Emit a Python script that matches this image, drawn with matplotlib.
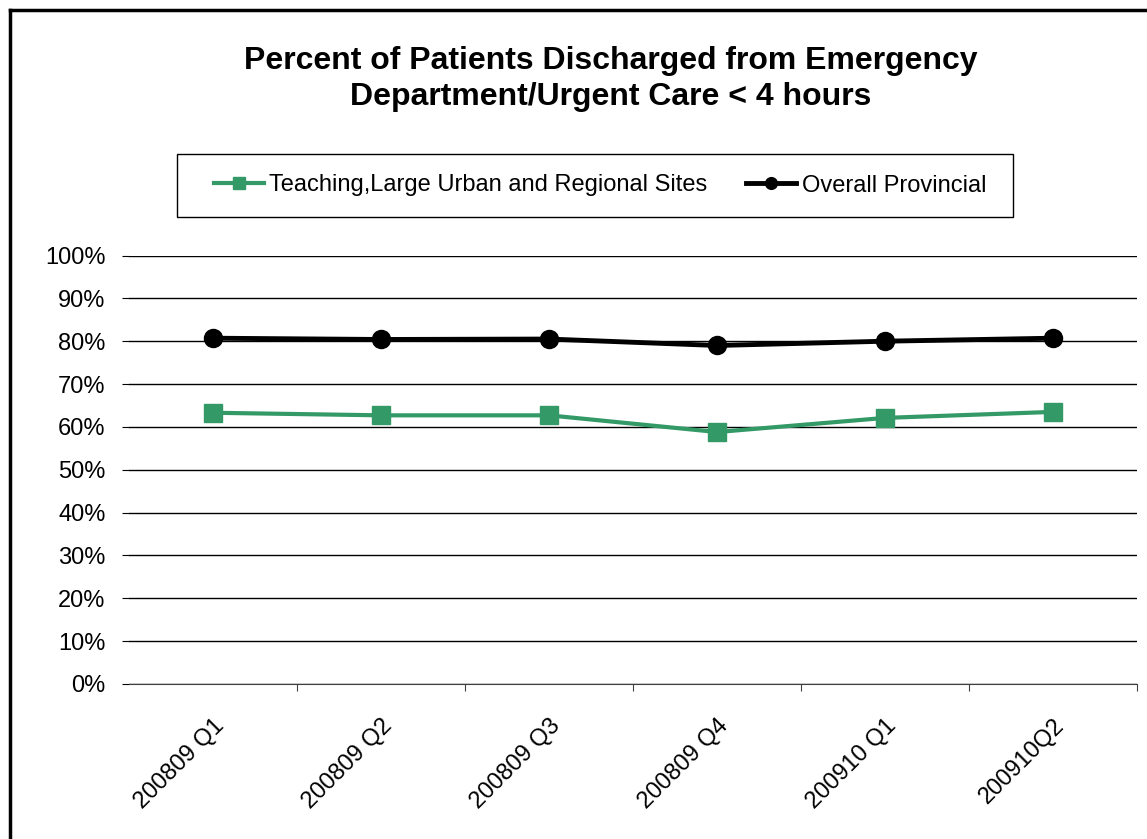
import matplotlib.pyplot as plt
from matplotlib.lines import Line2D
from matplotlib.patches import Rectangle
from matplotlib.ticker import FuncFormatter
from matplotlib.transforms import ScaledTranslation

quarters = ['200809 Q1', '200809 Q2', '200809 Q3', '200809 Q4', '200910 Q1', '200910Q2']
teaching = [63.3, 62.7, 62.7, 58.8, 62.1, 63.5]
provincial = [80.7, 80.4, 80.5, 79.0, 80.0, 80.7]

plt.rcParams['font.family'] = ['Liberation Sans', 'DejaVu Sans']

W, H = 1147, 839
fig = plt.figure(figsize=(W / 100, H / 100), dpi=100)
ax = fig.add_axes([129 / W, 1 - 684 / H, (1137 - 129) / W, (684 - 255.5) / H])

x = list(range(len(quarters)))
ax.plot(x, teaching, color='#339966', lw=3, marker='s', ms=13.5,
        label='Teaching,Large Urban and Regional Sites')
ax.plot(x, provincial, color='black', lw=3.5, marker='o', ms=13,
        label='Overall Provincial')

ax.set_xlim(-0.5, len(quarters) - 0.5)
ax.set_ylim(0, 100)
ax.set_yticks(range(0, 101, 10))
ax.yaxis.set_major_formatter(FuncFormatter(lambda v, p: f'{int(v)}%'))
ax.grid(axis='y', color='black', lw=1)
ax.set_axisbelow(True)

# category boundaries carry the ticks, labels sit at the centres
ax.set_xticks([i + 0.5 for i in x])
ax.set_xticklabels([])
ax.set_xticks(x, minor=True)
ax.set_xticklabels(quarters, minor=True, rotation=45, ha='right', va='top',
                   rotation_mode='anchor', fontsize=17)
shift = ScaledTranslation(-5 / 100, 0, fig.dpi_scale_trans)
for lbl in ax.get_xticklabels(minor=True):
    lbl.set_transform(lbl.get_transform() + shift)
ax.tick_params(axis='x', which='major', direction='out', length=5, color='#404040')
ax.tick_params(axis='x', which='minor', length=0, pad=22)
ax.tick_params(axis='y', direction='out', length=5, color='black', pad=12, labelsize=17)

for side in ['top', 'right', 'left']:
    ax.spines[side].set_visible(False)
ax.spines['bottom'].set_color('#404040')

fig.text(611 / W, 1 - 79 / H,
         'Percent of Patients Discharged from Emergency\nDepartment/Urgent Care < 4 hours',
         ha='center', va='center', fontsize=23, fontweight='bold', linespacing=1.25)

# legend entries spread over the inner span, box drawn separately
leg = fig.legend(loc='center', ncol=2, mode='expand',
                 bbox_to_anchor=(214 / W, 1 - 216 / H, (986 - 214) / W, 61 / H),
                 fontsize=17, handlelength=2.1, handletextpad=0.25, borderpad=0,
                 frameon=False, borderaxespad=0, markerscale=0.65)
fig.add_artist(Rectangle((177 / W, 1 - 217 / H), 836 / W, 63 / H, fill=False,
                         edgecolor='black', lw=1, transform=fig.transFigure))

# outer frame along the top and left edges
fig.add_artist(Line2D([10 / W, 10 / W], [0, 1 - 9.5 / H], color='black', lw=2.5,
                      transform=fig.transFigure))
fig.add_artist(Line2D([10 / W, 1], [1 - 9.5 / H, 1 - 9.5 / H], color='black', lw=2.5,
                      transform=fig.transFigure))

fig.savefig('out.png', dpi=100)
